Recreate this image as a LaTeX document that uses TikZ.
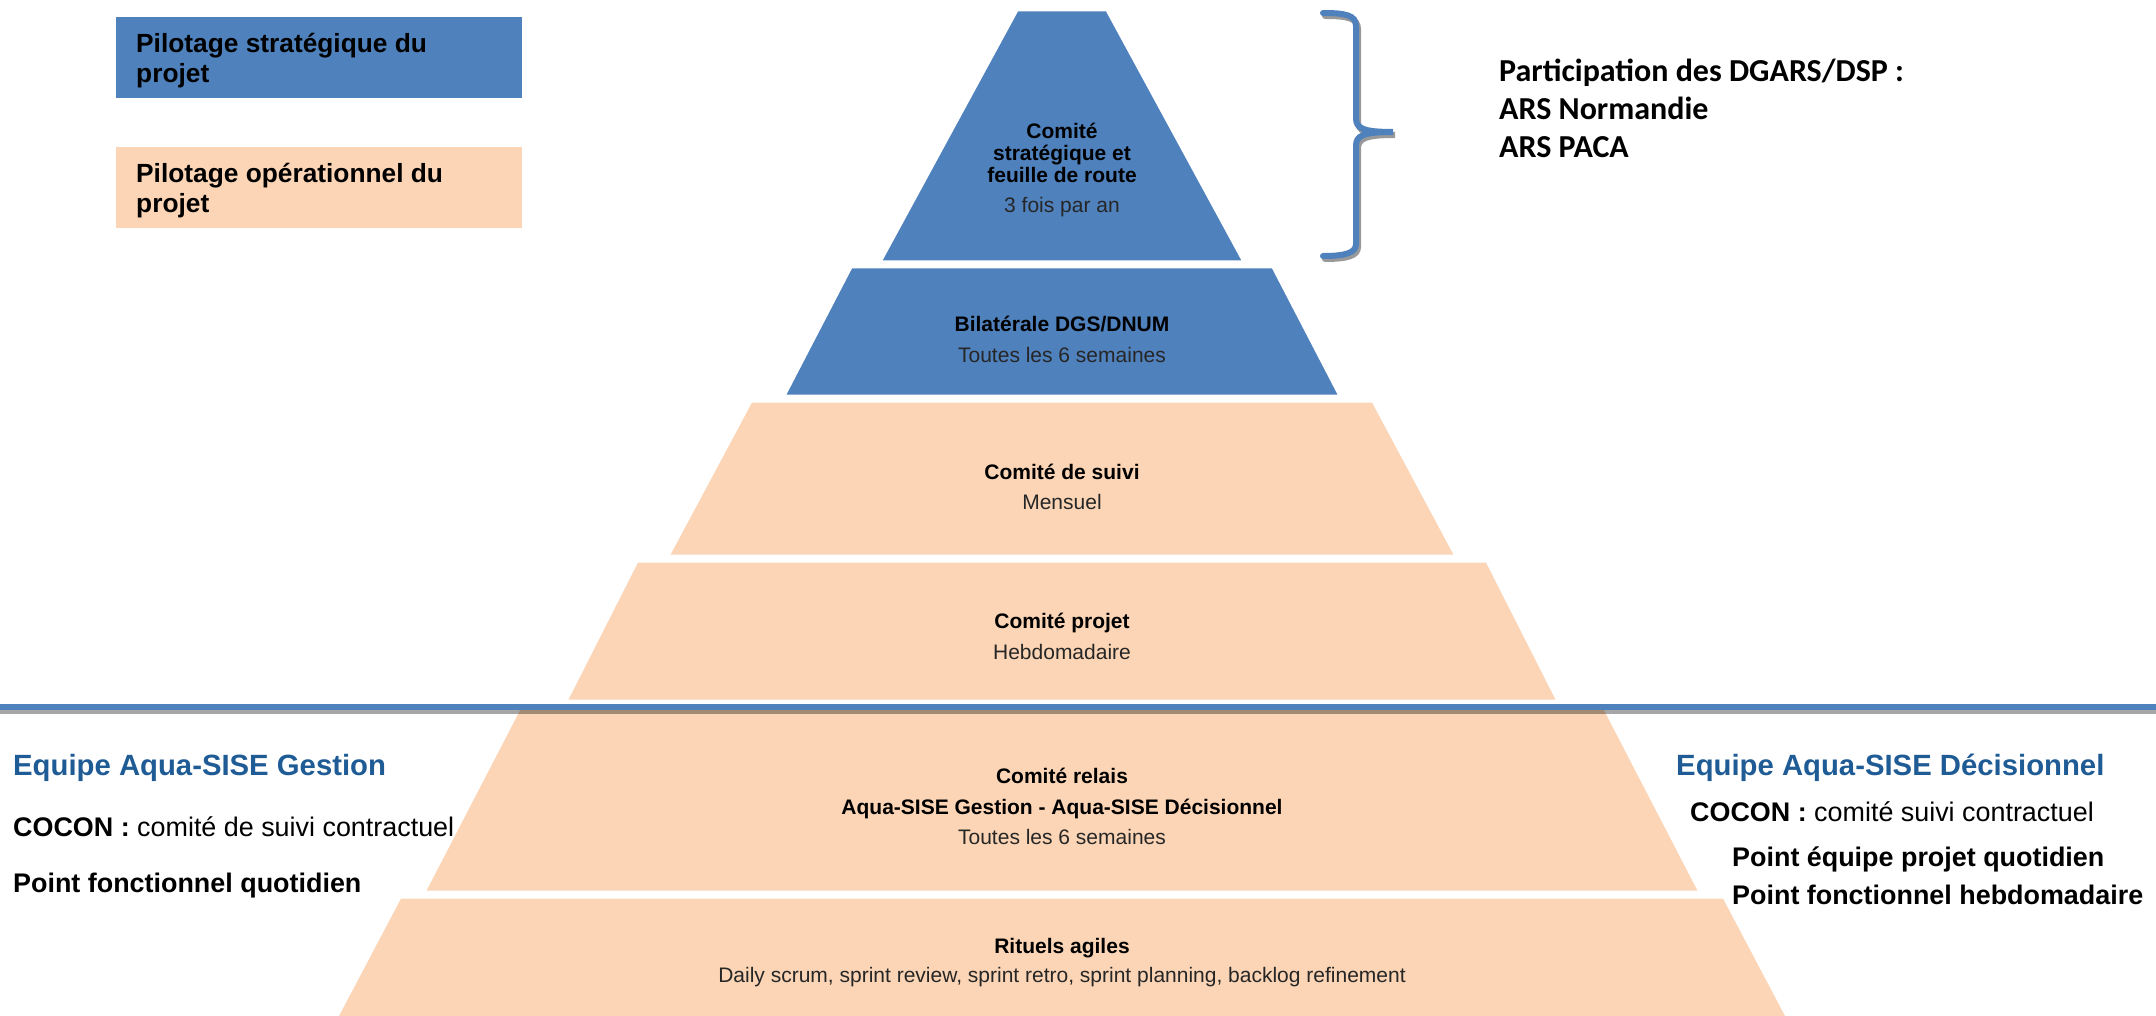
\documentclass[tikz,border=0pt]{standalone}
\usepackage{fontspec}
\setmainfont{Liberation Sans}
\newfontfamily\calibfont{Carlito}
\usepackage{xcolor}
\definecolor{stratblue}{HTML}{4F81BD}
\definecolor{operpeach}{HTML}{FBD5B5}
\definecolor{teamblue}{HTML}{1F5C96}
\definecolor{freqgray}{HTML}{262626}

\begin{document}
\begin{tikzpicture}[x=1pt,y=-1pt,
                    layer/.style={draw=white,line width=3pt},
                    title/.style={inner sep=0pt,anchor=base,font=\fontsize{21}{23}\selectfont\bfseries},
                    freq/.style={inner sep=0pt,anchor=base,text=freqgray,font=\fontsize{21}{23}\selectfont},
                    legend/.style={inner sep=0pt,anchor=base west,font=\fontsize{26.3}{30}\selectfont\bfseries},
                    team/.style={inner sep=0pt,anchor=base west,text=teamblue,font=\fontsize{29.3}{32}\selectfont\bfseries},
                    point/.style={inner sep=0pt,anchor=base west,font=\fontsize{26.9}{30}\selectfont\bfseries},
                    ars/.style={inner sep=0pt,anchor=base west,font=\fontsize{32}{38}\selectfont\calibfont\bfseries},
                    bracket/.style={line width=6pt,line cap=round}]
                    \useasboundingbox (0,0) rectangle (2156,1016);
                    \fill[stratblue] (116,17) rectangle (522,98);
                    \fill[operpeach] (116,147) rectangle (522,228);
                    \node[legend] (strat1) at (136,52.5) {Pilotage stratégique du};
                    \node[legend] (strat2) at (136,82.5) {projet};
                    \node[legend] (oper1) at (136,182.5) {Pilotage opérationnel du};
                    \node[legend] (oper2) at (136,212.5) {projet};
                    \foreach \yt/\wt/\yb/\wb/\col in {10/45/262/182/stratblue,
                                                      267/211/396/278/stratblue,
                                                      401/311/556/394/operpeach,
                                                      561/425/701/496/operpeach,
                                                      703/540/892/638/operpeach,
                                                      897/662/1022/728/operpeach}
                        \filldraw[layer,fill=\col] (1062-\wt,\yt) -- (1062+\wt,\yt) -- (1062+\wb,\yb) -- (1062-\wb,\yb) -- cycle;
                    \fill[black,opacity=.35] (0,709) rectangle (2156,714);
                    \fill[stratblue] (0,704) rectangle (2156,709.5);
                    \foreach \dx/\dy/\c in {2/3/gray!80, 0/0/stratblue}
                        \draw[bracket,draw=\c,shift={(\dx,\dy)}] (1323,13) .. controls (1345,13) and (1356,15) .. (1356,26) -- (1356,118)
                            .. controls (1356,128) and (1362,132) .. (1393,132)
                            .. controls (1362,132) and (1356,136) .. (1356,146) -- (1356,244)
                            .. controls (1356,253) and (1345,256) .. (1323,256);
                    \node[title] (comstrat) at (1062,138.5) {Comité};
                    \node[title] (comstratb) at (1062,160.5) {stratégique et};
                    \node[title] (comstratc) at (1062,182.5) {feuille de route};
                    \node[freq] (comstratfreq) at (1062,212.5) {3 fois par an};
                    \node[title] (bilat) at (1062,331.5) {Bilatérale DGS/DNUM};
                    \node[freq] (bilatfreq) at (1062,362.5) {Toutes les 6 semaines};
                    \node[title] (suivi) at (1062,479.5) {Comité de suivi};
                    \node[freq] (suivifreq) at (1062,509.5) {Mensuel};
                    \node[title] (projet) at (1062,628.5) {Comité projet};
                    \node[freq] (projetfreq) at (1062,659.5) {Hebdomadaire};
                    \node[title] (relais) at (1062,783.5) {Comité relais};
                    \node[title] (relaisb) at (1062,814.5) {Aqua-SISE Gestion - Aqua-SISE Décisionnel};
                    \node[freq] (relaisfreq) at (1062,844.5) {Toutes les 6 semaines};
                    \node[title] (rituels) at (1062,953.5) {Rituels agiles};
                    \node[freq] (rituelsfreq) at (1062,982.5) {Daily scrum, sprint review, sprint retro, sprint planning, backlog refinement};
                    \node[ars] (dgars) at (1499,82) {Participation des DGARS/DSP :};
                    \node[ars] (normandie) at (1499,120) {ARS Normandie};
                    \node[ars] (paca) at (1499,158) {ARS PACA};
                    \node[team] (gestion) at (13,775) {Equipe Aqua-SISE Gestion};
                    \node[point] (cocong) at (13,836.5) {COCON : {\mdseries comité de suivi contractuel}};
                    \node[point] (fonctg) at (13,892.5) {Point fonctionnel quotidien};
                    \node[team] (decision) at (1676,775) {Equipe Aqua-SISE Décisionnel};
                    \node[point] (cocond) at (1690,821.5) {COCON : {\mdseries comité suivi contractuel}};
                    \node[point] (equiped) at (1732,866.5) {Point équipe projet quotidien};
                    \node[point] (fonctd) at (1732,904.5) {Point fonctionnel hebdomadaire};
                \end{tikzpicture}
\end{document}
